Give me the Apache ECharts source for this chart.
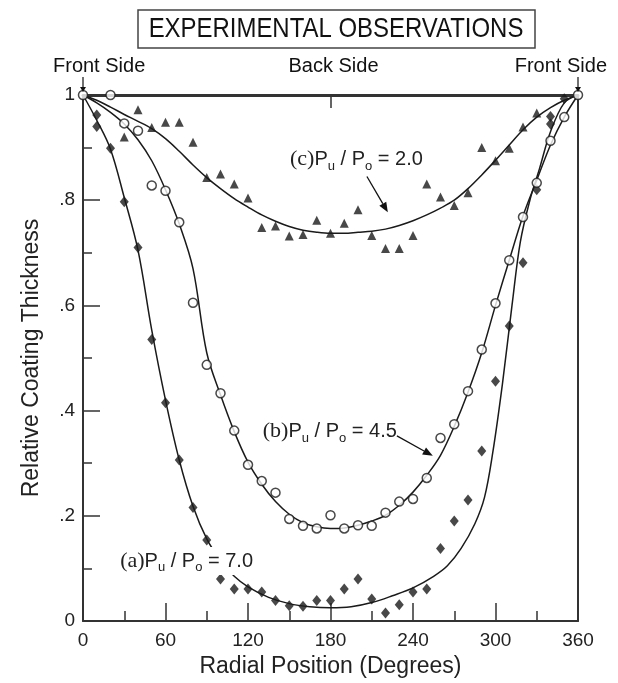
<!DOCTYPE html>
<html><head><meta charset="utf-8">
<script src="https://cdn.jsdelivr.net/npm/echarts@6/dist/echarts.min.js"></script>
<style>html,body{margin:0;padding:0;background:#fff}#c{width:618px;height:683px}</style>
</head><body><div id="c"></div>
<script>
// ---- data ----
const yTickText = {'0':'0','0.2':'.2','0.4':'.4','0.6':'.6','0.8':'.8','1':'1'};

// (a) Pu/Po = 7.0  (filled diamonds)
const diamonds70 = [[10,0.962],[10,0.94],[20,0.899],[30,0.797],[40,0.71],[50,0.535],[60,0.415],[70,0.306],[80,0.216],[90,0.154],[100,0.08],[110,0.061],[120,0.061],[130,0.055],[140,0.039],[150,0.029],[160,0.028],[170,0.039],[180,0.039],[190,0.061],[200,0.08],[210,0.042],[220,0.015],[230,0.031],[240,0.055],[250,0.061],[260,0.138],[270,0.19],[280,0.23],[290,0.323],[300,0.456],[310,0.561],[320,0.681],[330,0.82],[340,0.959],[340,0.945],[350,0.993]];
// (b) Pu/Po = 4.5  (open circles)
const circles45 = [[0,1],[20,1],[30,0.946],[40,0.932],[50,0.828],[60,0.818],[70,0.758],[80,0.605],[90,0.487],[100,0.433],[110,0.362],[120,0.297],[130,0.266],[140,0.244],[150,0.194],[160,0.181],[170,0.176],[180,0.201],[190,0.176],[200,0.182],[210,0.181],[220,0.206],[230,0.227],[240,0.232],[250,0.272],[260,0.348],[270,0.374],[280,0.437],[290,0.516],[300,0.604],[310,0.686],[320,0.768],[330,0.833],[340,0.913],[350,0.958],[360,1]];
// (c) Pu/Po = 2.0  (filled triangles)
const triangles20 = [[30,0.92],[40,0.972],[50,0.938],[60,0.948],[70,0.948],[80,0.91],[90,0.843],[100,0.85],[110,0.831],[120,0.804],[130,0.748],[140,0.751],[150,0.732],[160,0.735],[170,0.762],[180,0.737],[190,0.756],[200,0.782],[210,0.733],[220,0.708],[230,0.708],[240,0.733],[250,0.831],[260,0.806],[270,0.79],[280,0.814],[290,0.9],[300,0.875],[310,0.899],[320,0.939],[330,0.966]];

// fitted curves
const fitA = [[0,1],[10,0.952],[20,0.897],[30,0.805],[40,0.705],[50,0.553],[60,0.42],[70,0.306],[80,0.218],[90,0.156],[100,0.115],[110,0.085],[120,0.065],[135,0.045],[150,0.033],[165,0.027],[180,0.025],[195,0.027],[210,0.035],[225,0.048],[240,0.063],[255,0.085],[265,0.105],[275,0.138],[285,0.185],[292,0.235],[298,0.32],[305,0.45],[312,0.6],[318,0.72],[325,0.8],[332,0.86],[340,0.93],[350,0.985],[360,1]];
const fitB = [[0,1],[10,0.985],[20,0.967],[30,0.945],[40,0.915],[50,0.875],[60,0.82],[70,0.755],[80,0.67],[90,0.51],[100,0.43],[110,0.36],[120,0.302],[130,0.26],[140,0.227],[150,0.203],[160,0.187],[170,0.179],[180,0.176],[190,0.177],[200,0.182],[210,0.19],[220,0.201],[230,0.22],[240,0.245],[250,0.277],[260,0.315],[270,0.37],[280,0.435],[290,0.51],[300,0.6],[310,0.686],[320,0.77],[330,0.838],[340,0.905],[350,0.958],[360,1]];
const fitC = [[0,1],[10,0.99],[20,0.977],[30,0.963],[40,0.95],[50,0.936],[60,0.917],[70,0.893],[80,0.867],[90,0.843],[100,0.822],[110,0.803],[120,0.787],[130,0.772],[140,0.76],[150,0.75],[160,0.743],[170,0.739],[180,0.737],[190,0.737],[200,0.739],[210,0.741],[220,0.745],[230,0.752],[240,0.761],[250,0.772],[260,0.785],[270,0.8],[280,0.822],[290,0.848],[300,0.876],[310,0.905],[320,0.934],[330,0.958],[340,0.976],[350,0.99],[360,1]];

// annotation anchors (data coordinates)
const curveLabels = [
  {tag:'(a)', ratio:'7.0', at:[25.6,0.114], hideLine:true},
  {tag:'(b)', ratio:'4.5', at:[129.3,0.36]},
  {tag:'(c)', ratio:'2.0', at:[149.1,0.877]}
];
const labelArrows = [
  {from:[228.3,0.352], to:[254.4,0.314]},
  {from:[206.5,0.845], to:[221.7,0.777]}
];
const sideMarks = [
  {text:'Front Side', at:0, align:'left', shift:-30, arrow:true},
  {text:'Back Side', at:180, align:'center', shift:3, arrow:false},
  {text:'Front Side', at:360, align:'right', shift:29, arrow:true}
];

// ---- chart ----
const INK = '#1a1a1a';
const AX = '#333';
const SANS = 'Liberation Sans, Arial, sans-serif';
const chart = echarts.init(document.getElementById('c'), null, {renderer:'canvas'});

const lineSeries = (d) => ({type:'line', data:d, smooth:0.35, showSymbol:false, symbol:'none', silent:true,
  lineStyle:{color:INK, width:1.5}, z:2, clip:false});

chart.setOption({
  animation:false,
  backgroundColor:'#fff',
  grid:{left:83, right:40, top:95, bottom:60, containLabel:false},
  xAxis:[
    {type:'value', min:0, max:360, interval:60, position:'bottom',
     axisLine:{show:true, onZero:false, lineStyle:{color:AX, width:2}},
     axisTick:{show:true, inside:true, length:18, lineStyle:{color:AX, width:1.5}},
     minorTick:{show:true, splitNumber:2, length:10, lineStyle:{color:AX, width:1.5}},
     splitLine:{show:false}, minorSplitLine:{show:false},
     axisLabel:{fontSize:19, color:'#222', margin:10, fontFamily:SANS},
     name:'Radial Position (Degrees)', nameLocation:'middle', nameGap:34,
     nameTextStyle:{fontSize:23, color:'#222', fontFamily:SANS}},
    {type:'value', min:0, max:360, interval:180, position:'top',
     axisLine:{show:true, onZero:false, lineStyle:{color:AX, width:3}},
     axisTick:{show:true, inside:true, length:13, lineStyle:{color:AX, width:1.5}},
     axisLabel:{show:false}, splitLine:{show:false}}
  ],
  yAxis:[
    {type:'value', min:0, max:1, interval:0.2, position:'left',
     axisLine:{show:true, onZero:false, lineStyle:{color:AX, width:2}},
     axisTick:{show:true, inside:true, length:17, lineStyle:{color:AX, width:1.5}},
     minorTick:{show:true, splitNumber:2, length:9, lineStyle:{color:AX, width:1.5}},
     splitLine:{show:false}, minorSplitLine:{show:false},
     axisLabel:{fontSize:19, color:'#222', margin:8, fontFamily:SANS,
       formatter:(v)=> yTickText[String(Math.round(v*10)/10)] ?? String(v)},
     name:'Relative Coating Thickness', nameLocation:'middle', nameGap:40, nameRotate:90,
     nameTextStyle:{fontSize:23, color:'#222', fontFamily:SANS}},
    {type:'value', min:0, max:1, position:'right',
     axisLine:{show:true, onZero:false, lineStyle:{color:AX, width:2}},
     axisTick:{show:false}, axisLabel:{show:false}, splitLine:{show:false}}
  ],
  series:[
    lineSeries(fitA), lineSeries(fitB), lineSeries(fitC),
    {type:'scatter', name:'Pu/Po = 7.0', data:diamonds70, symbol:'diamond', symbolSize:[9,11],
     itemStyle:{color:INK}, clip:false, z:3},
    {type:'scatter', name:'Pu/Po = 4.5', data:circles45, symbol:'circle', symbolSize:9,
     itemStyle:{color:'#fff', borderColor:INK, borderWidth:1.5}, clip:false, z:4},
    {type:'scatter', name:'Pu/Po = 2.0', data:triangles20, symbol:'triangle', symbolSize:9,
     itemStyle:{color:INK}, clip:false, z:3}
  ]
});

// ---- annotations ----
const toPx = (p) => chart.convertToPixel({xAxisIndex:0, yAxisIndex:0}, p);
const y1 = toPx([0,1])[1];
const els = [];

// title box
els.push({type:'rect', shape:{x:138, y:10, width:397, height:38}, style:{fill:'#fff', stroke:'#444', lineWidth:1.5}, z:100});
els.push({type:'text', x:336, y:29, scaleX:0.855, z:101,
  style:{text:'EXPERIMENTAL OBSERVATIONS', fill:'#111', font:'28px ' + SANS,
         align:'center', verticalAlign:'middle', textAlign:'center', textVerticalAlign:'middle'}});

// side labels and arrows
sideMarks.forEach(m => {
  const px = toPx([m.at,1])[0];
  els.push({type:'text', x:px + m.shift, y:y1-29, z:101,
    style:{text:m.text, fill:'#111', font:'20px ' + SANS, align:m.align, verticalAlign:'middle',
           textAlign:m.align, textVerticalAlign:'middle'}});
  if (m.arrow) {
    els.push({type:'line', shape:{x1:px, y1:y1-18, x2:px, y2:y1-5}, style:{stroke:'#111', lineWidth:1.2}, z:101});
    els.push({type:'polygon', shape:{points:[[px-3,y1-8],[px+3,y1-8],[px,y1-3]]}, style:{fill:'#111'}, z:101});
  }
});

// curve labels
curveLabels.forEach(l => {
  const p = toPx(l.at);
  els.push({type:'text', x:p[0], y:p[1], z:101,
    style:{
      text:'{s|' + l.tag + '}{n|P}{u|u}{n| / P}{u|o}{n| = ' + l.ratio + '}',
      align:'left', verticalAlign:'middle', textAlign:'left', textVerticalAlign:'middle',
      backgroundColor: l.hideLine ? '#fff' : 'transparent', padding:[1,2,1,2],
      rich:{
        s:{fontFamily:'Liberation Serif, Times New Roman, serif', fontSize:22, fill:'#222', lineHeight:26, verticalAlign:'middle'},
        n:{fontFamily:SANS, fontSize:20, fill:'#222', lineHeight:26, verticalAlign:'middle'},
        u:{fontFamily:SANS, fontSize:13, fill:'#222', lineHeight:14, verticalAlign:'bottom'}
      }}});
});

// label arrows
labelArrows.forEach(a => {
  const p0 = toPx(a.from), p1 = toPx(a.to);
  const dx = p1[0]-p0[0], dy = p1[1]-p0[1], L = Math.hypot(dx,dy);
  const ux = dx/L, uy = dy/L, hl = 10, hw = 4;
  const bx = p1[0]-ux*hl, by = p1[1]-uy*hl;
  els.push({type:'line', shape:{x1:p0[0], y1:p0[1], x2:bx, y2:by}, style:{stroke:'#111', lineWidth:1.3}, z:101});
  els.push({type:'polygon', shape:{points:[[p1[0],p1[1]],[bx-uy*hw, by+ux*hw],[bx+uy*hw, by-ux*hw]]}, style:{fill:'#111'}, z:101});
});

chart.setOption({graphic:{elements:els}});
</script>
</body></html>
